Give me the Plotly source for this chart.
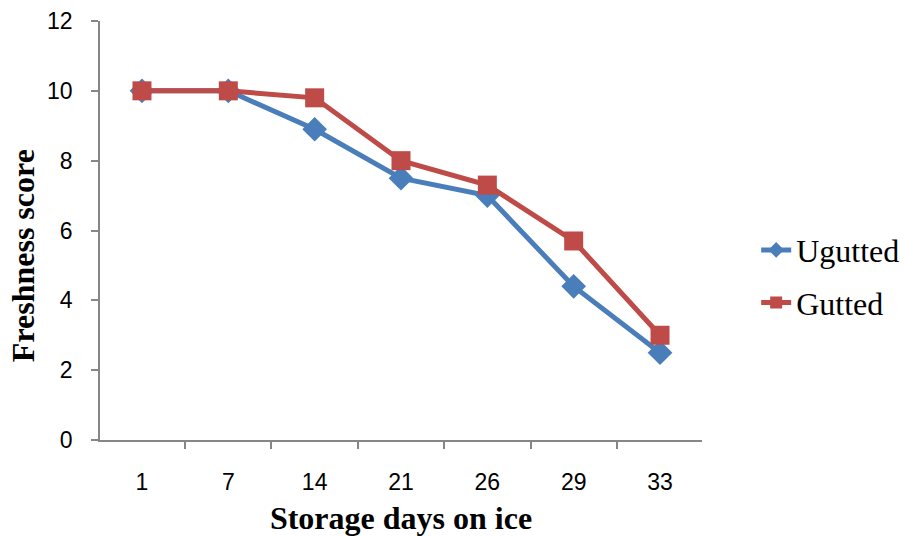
import plotly.graph_objects as go

days = ["1", "7", "14", "21", "26", "29", "33"]
ugutted = [10, 10, 8.9, 7.5, 7.0, 4.4, 2.5]
gutted = [10, 10, 9.8, 8.0, 7.3, 5.7, 3.0]
y_ticks = [0, 2, 4, 6, 8, 10, 12]

blue = "#4A7EBB"
red = "#BE4B48"
axis_grey = "#868686"

fig = go.Figure()
fig.add_trace(go.Scatter(
    x=days, y=ugutted, name="Ugutted", mode="lines+markers", legendgroup="u",
    line=dict(color=blue, width=5),
    marker=dict(symbol="diamond", size=19, color=blue),
))
fig.add_trace(go.Scatter(
    x=days, y=gutted, name="Gutted", mode="lines+markers", legendgroup="g",
    line=dict(color=red, width=5),
    marker=dict(symbol="square", size=19, color=red),
))

fig.update_layout(
    width=905, height=536,
    margin=dict(l=100, r=203, t=21, b=96, autoexpand=False),
    paper_bgcolor="white", plot_bgcolor="white",
    showlegend=True,
    legend=dict(
        x=1.09, y=0.39, xanchor="left", yanchor="middle",
        font=dict(family="Liberation Serif", size=32, color="black"),
        tracegroupgap=8, itemsizing="constant",
    ),
    xaxis=dict(
        type="category", showgrid=False, showline=True, linecolor=axis_grey, linewidth=1.5,
        ticks="outside", tickson="boundaries", ticklen=7, tickcolor=axis_grey, tickwidth=1.5,
        ticklabelstandoff=21,
        tickfont=dict(family="Liberation Sans", size=23, color="black"),
        title=dict(text="<b>Storage days on ice</b>", standoff=14,
                   font=dict(family="Liberation Serif", size=32, color="black")),
        zeroline=False,
    ),
    yaxis=dict(
        range=[0, 12], tickvals=y_ticks, showgrid=False, showline=True, linecolor=axis_grey,
        linewidth=1.5, ticks="outside", ticklen=7, tickcolor=axis_grey, tickwidth=1.5,
        ticklabelstandoff=14,
        tickfont=dict(family="Liberation Sans", size=23, color="black"),
        zeroline=False,
    ),
    annotations=[dict(
        text="<b>Freshness score</b>", textangle=-90, showarrow=False,
        xref="paper", yref="paper", x=-0.128, y=0.441, xanchor="center", yanchor="middle",
        font=dict(family="Liberation Serif", size=32, color="black"),
    )],
)

fig.write_html("out.html")
